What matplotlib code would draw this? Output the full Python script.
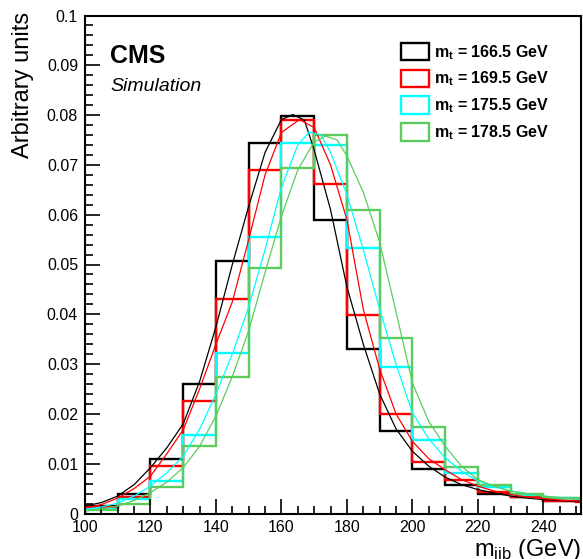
import matplotlib
matplotlib.use("Agg")
import matplotlib.pyplot as plt
import numpy as np
from matplotlib.patches import Patch
from matplotlib.ticker import MultipleLocator, FuncFormatter

plt.rcParams['font.family'] = ['Liberation Sans', 'DejaVu Sans']
plt.rcParams['mathtext.fontset'] = 'custom'
plt.rcParams['mathtext.rm'] = 'Liberation Sans'
plt.rcParams['mathtext.it'] = 'Liberation Sans:italic'
plt.rcParams['mathtext.bf'] = 'Liberation Sans:bold'

# histogram bins (GeV)
bin_edges = np.arange(100, 261, 10)

# normalised histograms, one per top mass
h_1665 = [0.0015, 0.0040, 0.0110, 0.0260, 0.0508, 0.0744, 0.0799, 0.0590,
          0.0330, 0.0165, 0.0090, 0.0058, 0.0040, 0.0034, 0.0026, 0.0025]
h_1695 = [0.0013, 0.0034, 0.0095, 0.0225, 0.0431, 0.0690, 0.0790, 0.0662,
          0.0398, 0.0199, 0.0104, 0.0067, 0.0043, 0.0034, 0.0025, 0.0024]
h_1755 = [0.0010, 0.0030, 0.0065, 0.0157, 0.0323, 0.0555, 0.0744, 0.0740,
          0.0533, 0.0294, 0.0147, 0.0082, 0.0054, 0.0037, 0.0031, 0.0030]
h_1785 = [0.0007, 0.0019, 0.0053, 0.0135, 0.0274, 0.0493, 0.0693, 0.0761,
          0.0610, 0.0352, 0.0173, 0.0094, 0.0058, 0.0040, 0.0032, 0.0031]

# fitted curves
fx_1665 = [100, 105, 110, 115, 120, 125, 130, 135, 140, 145, 150, 155, 160,
           163.5, 167, 170, 175, 180, 185, 190, 195, 200, 205, 210, 215, 220,
           225, 230, 235, 240, 245, 250, 255]
fy_1665 = [0.0015, 0.0022, 0.0035, 0.0058, 0.0092, 0.0132, 0.0180, 0.0265,
           0.0375, 0.0500, 0.0617, 0.0725, 0.0791, 0.0801, 0.0790, 0.0730,
           0.0610, 0.0455, 0.0340, 0.0240, 0.0170, 0.0125, 0.0095, 0.0073,
           0.0058, 0.0048, 0.0041, 0.0035, 0.0031, 0.0028, 0.0026, 0.0024,
           0.0023]
fx_1695 = [100, 105, 110, 115, 120, 125, 130, 135, 140, 145, 150, 155, 160,
           165.5, 170, 175, 180, 185, 190, 195, 200, 205, 210, 215, 220, 225,
           230, 235, 240, 245, 250, 255]
fy_1695 = [0.0011, 0.0018, 0.0031, 0.0050, 0.0075, 0.0120, 0.0168, 0.0250,
           0.0340, 0.0425, 0.0550, 0.0680, 0.0765, 0.0791, 0.0775, 0.0700,
           0.0590, 0.0410, 0.0290, 0.0200, 0.0145, 0.0110, 0.0088, 0.0068,
           0.0055, 0.0045, 0.0038, 0.0033, 0.0030, 0.0027, 0.0025, 0.0024]
fx_1755 = [100, 105, 110, 115, 120, 125, 130, 135, 140, 145, 150, 155, 160,
           165, 168.5, 172, 175, 180, 185, 190, 195, 200, 205, 210, 215, 220,
           225, 230, 235, 240, 245, 250, 255]
fy_1755 = [0.0008, 0.0013, 0.0021, 0.0035, 0.0055, 0.0082, 0.0115, 0.0169,
           0.0240, 0.0320, 0.0415, 0.0530, 0.0655, 0.0740, 0.0766, 0.0760,
           0.0725, 0.0640, 0.0530, 0.0410, 0.0300, 0.0202, 0.0150, 0.0112,
           0.0085, 0.0065, 0.0054, 0.0045, 0.0040, 0.0035, 0.0032, 0.0030,
           0.0029]
fx_1785 = [100, 105, 110, 115, 120, 125, 130, 135, 140, 145, 150, 155, 160,
           165, 170, 173.5, 177, 180, 185, 190, 195, 200, 205, 210, 215, 220,
           225, 230, 235, 240, 245, 250, 255]
fy_1785 = [0.0005, 0.0009, 0.0015, 0.0026, 0.0042, 0.0063, 0.0092, 0.0135,
           0.0196, 0.0275, 0.0367, 0.0484, 0.0597, 0.0690, 0.0746, 0.0758,
           0.0750, 0.0718, 0.0645, 0.0545, 0.0405, 0.0262, 0.0185, 0.0135,
           0.0095, 0.0068, 0.0055, 0.0045, 0.0040, 0.0035, 0.0032, 0.0030,
           0.0029]

labels = ['166.5', '169.5', '175.5', '178.5']
colors = ['black', '#ff0000', '#00ffff', '#5ccc5c']
hists = [h_1665, h_1695, h_1755, h_1785]
curves = [(fx_1665, fy_1665), (fx_1695, fy_1695),
          (fx_1755, fy_1755), (fx_1785, fy_1785)]

fig = plt.figure(figsize=(5.83, 5.59), dpi=100)
ax = fig.add_axes([85 / 583, 45.5 / 559, 496 / 583, 498 / 559])

for h, c in zip(hists, colors):
    ax.stairs(h, bin_edges, color=c, lw=1.7, baseline=0)
for (cx, cy), c in zip(curves, colors):
    ax.plot(cx, cy, color=c, lw=0.9)

ax.set_xlim(100, 251.5)
ax.set_ylim(0, 0.1)
ax.xaxis.set_major_locator(MultipleLocator(20))
ax.xaxis.set_minor_locator(MultipleLocator(5))
ax.yaxis.set_major_locator(MultipleLocator(0.01))
ax.yaxis.set_minor_locator(MultipleLocator(0.002))
ax.yaxis.set_major_formatter(FuncFormatter(lambda v, p: '{:g}'.format(round(v, 3))))
ax.tick_params(which='both', direction='in', top=False, right=False,
               labelsize=11.5, width=1.2)
ax.tick_params(which='major', length=10.5, pad=5)
ax.tick_params(which='minor', length=5.5)
for s in ax.spines.values():
    s.set_linewidth(1.5)

fig.text(23 / 583, 1 - 12 / 559, 'Arbitrary units', rotation=90,
         ha='center', va='top', fontsize=17)
fig.text(581 / 583, 3 / 559, r'm$_{\mathrm{jjb}}$ (GeV)', ha='right',
         va='baseline', fontsize=17)

ax.text(0.051, 0.905, 'CMS', transform=ax.transAxes, fontsize=18,
        fontweight='bold', va='baseline')
ax.text(0.051, 0.848, 'Simulation', transform=ax.transAxes, fontsize=14,
        style='italic', va='baseline')

handles = [Patch(facecolor='none', edgecolor=c, lw=1.7) for c in colors]
leg_labels = [r'$\mathbf{m}_{\mathbf{t}}$ = ' + m + ' GeV' for m in labels]
ax.legend(handles, leg_labels, loc='upper left', bbox_to_anchor=(0.637, 0.945),
          frameon=False, borderpad=0, borderaxespad=0, handlelength=1.75,
          handleheight=1.3, handletextpad=0.35, labelspacing=0.5,
          prop={'weight': 'bold', 'size': 11.5})

fig.savefig('out.png', dpi=100)
